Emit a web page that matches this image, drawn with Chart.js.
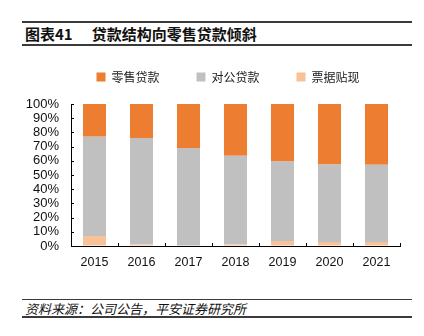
<!DOCTYPE html>
<html>
<head>
<meta charset="utf-8">
<script src="https://cdn.jsdelivr.net/npm/chart.js@4"></script>
<style>
  body { margin: 0; width: 424px; height: 336px; background: #fff; position: relative; overflow: hidden; }
  .rule { position: absolute; left: 22px; width: 390px; background: #3a3a3a; }
  #title { position: absolute; left: 25px; top: 24px; font: bold 15px "Noto Sans CJK SC", sans-serif; color: #111; white-space: pre; line-height: 20px; }
  #title span { margin-left: 19px; }
  #source { position: absolute; left: 25px; top: 300px; font: italic 13px "Noto Sans CJK SC", sans-serif; color: #111; line-height: 17px; }
  #wrap { position: absolute; left: 0; top: 34px; width: 424px; height: 242px; }
</style>
</head>
<body>
<div class="rule" style="top:21px;height:2px"></div>
<div id="title">图表41<span>贷款结构向零售贷款倾斜</span></div>
<div class="rule" style="top:44px;height:2px"></div>
<div id="wrap"><canvas id="loanChart"></canvas></div>
<div class="rule" style="top:299px;height:1px"></div>
<div id="source">资料来源：公司公告，平安证券研究所</div>
<div class="rule" style="top:316px;height:2px"></div>

<script>
// 数据 (读自原图, %)
const years = ['2015', '2016', '2017', '2018', '2019', '2020', '2021'];
const retailLoans = [23, 24, 31, 36.5, 40.5, 42.6, 42.8];      // 零售贷款
const corporateLoans = [70, 75, 68.7, 62.5, 56, 54.6, 54.4];   // 对公贷款
const billDiscount = [7, 1, 0.3, 1, 3.5, 2.8, 2.8];            // 票据贴现
const yTicks = [0, 10, 20, 30, 40, 50, 60, 70, 80, 90, 100];

Chart.defaults.font.family = "'Liberation Sans', Arial, sans-serif";
Chart.defaults.color = '#111';

// 向内的小刻度线
const innerTicks = {
  id: 'innerTicks',
  afterDraw(chart) {
    const ctx = chart.ctx, x = chart.scales.x, y = chart.scales.y;
    const left = chart.chartArea.left, bottom = chart.chartArea.bottom;
    ctx.save();
    ctx.strokeStyle = '#000';
    ctx.lineWidth = 1;
    ctx.beginPath();
    yTicks.forEach(v => {
      const py = Math.round(y.getPixelForValue(v)) + 0.5;
      ctx.moveTo(left, py);
      ctx.lineTo(left + 3, py);
    });
    for (let i = 0; i <= years.length; i++) {
      const px = Math.round(x.getPixelForValue(i - 0.5)) + 0.5;
      ctx.moveTo(px, bottom);
      ctx.lineTo(px, bottom - 3);
    }
    ctx.stroke();
    ctx.restore();
  }
};

// 图例整体右移一点
const legendShift = {
  id: 'legendShift',
  afterLayout(chart) {
    chart.legend.left += 28;
    chart.legend.right += 28;
  }
};

const ctxLoan = document.getElementById('loanChart').getContext('2d');
const loanChart = new Chart(ctxLoan, {
  type: 'bar',
  data: {
    labels: years,
    datasets: [
      { label: '票据贴现', data: billDiscount, backgroundColor: '#F8C198' },
      { label: '对公贷款', data: corporateLoans, backgroundColor: '#C0C0C0' },
      { label: '零售贷款', data: retailLoans, backgroundColor: '#ED7D31' }
    ]
  },
  options: {
    responsive: true,
    maintainAspectRatio: false,
    animation: false,
    datasets: { bar: { barPercentage: 1, categoryPercentage: 0.49 } },
    layout: { padding: { left: 0, right: 24, top: 0, bottom: 0 } },
    plugins: {
      tooltip: { enabled: false },
      // 空标题只当作图例与绘图区之间的间距
      title: { display: true, text: '', weight: 500, padding: 0, font: { size: 11, lineHeight: 1 } },
      legend: {
        reverse: true,
        labels: {
          boxWidth: 9,
          boxHeight: 9,
          padding: 37,
          color: '#222',
          font: { family: "'Noto Sans CJK SC', sans-serif", size: 12 }
        }
      }
    },
    scales: {
      x: {
        stacked: true,
        grid: { display: true, drawOnChartArea: false, drawTicks: false },
        border: { color: '#000', width: 1 },
        ticks: { padding: 9, font: { size: 12.5 }, color: '#111' },
        afterFit: s => { s.height = 30; }
      },
      y: {
        stacked: true,
        min: 0,
        max: 100,
        grid: { display: true, drawOnChartArea: false, drawTicks: false },
        border: { color: '#000', width: 1 },
        afterBuildTicks: s => { s.ticks = yTicks.map(v => ({ value: v })); },
        ticks: { autoSkip: false, padding: 12, font: { size: 13 }, color: '#111', callback: v => v + '%' },
        afterFit: s => { s.width = 71; }
      }
    }
  },
  plugins: [innerTicks, legendShift]
});
</script>
</body>
</html>
